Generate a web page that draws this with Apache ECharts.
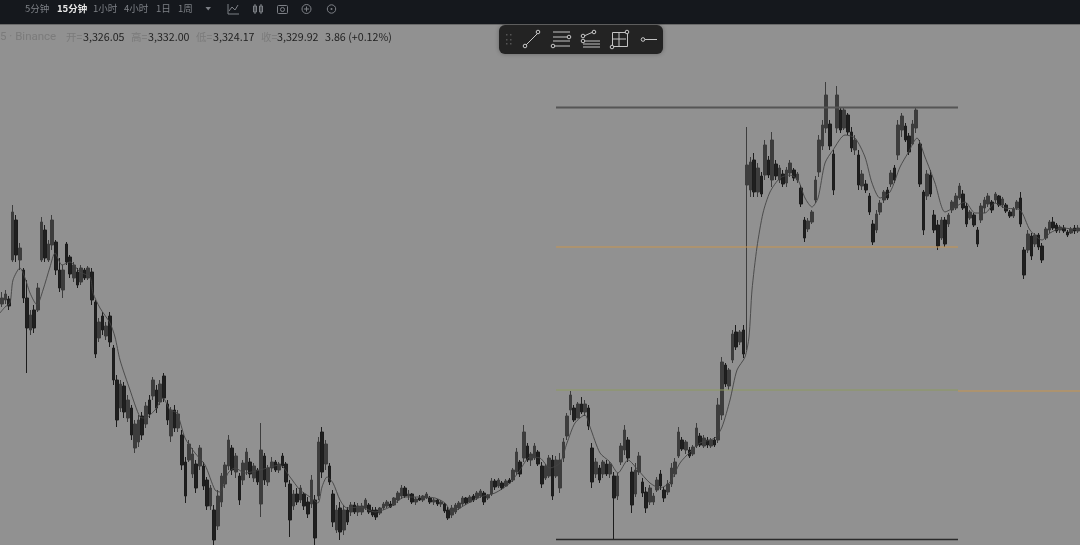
<!DOCTYPE html>
<html><head><meta charset="utf-8">
<style>html,body{margin:0;padding:0;background:#919191}#c{width:1080px;height:545px}</style>
<script src="https://cdn.jsdelivr.net/npm/echarts@6/dist/echarts.min.js"></script>
</head><body><div id="c"></div>
<script>
const highs=[3268,3270,3264,3355,3345,3317,3292,3280,3250,3255,3277,3343,3335,3320,3345,3320,3302,3295,3318,3305,3298,3292,3295,3292,3294,
3292,3260,3242,3248,3238,3248,3215,3185,3180,3178,3165,3155,3140,3145,3148,3158,3165,3183,3175,3180,3187,3160,3153,3155,3150,
3130,3103,3120,3112,3100,3115,3098,3083,3075,3055,3070,3087,3098,3125,3115,3107,3087,3100,3112,3102,3097,3092,3137,3107,3095,
3103,3100,3098,3107,3098,3080,3070,3072,3075,3068,3063,3085,3065,3123,3133,3120,3097,3070,3055,3058,3055,3053,3058,3058,3057,
3057,3062,3057,3053,3053,3053,3058,3060,3059,3063,3069,3075,3074,3070,3067,3063,3065,3065,3068,3064,3062,3061,3060,3057,3053,
3055,3057,3059,3064,3063,3065,3066,3069,3071,3069,3066,3082,3081,3082,3079,3081,3082,3092,3112,3100,3135,3117,3108,3117,3110,
3098,3096,3105,3105,3104,3107,3122,3147,3169,3155,3158,3163,3160,3155,3117,3102,3095,3100,3100,3098,3088,3087,3117,3135,3123,
3093,3097,3108,3082,3073,3075,3067,3083,3090,3073,3080,3097,3102,3133,3123,3120,3113,3115,3137,3127,3125,3123,3122,3123,3162,
3203,3197,3192,3230,3235,3230,3235,3433,3403,3407,3397,3388,3420,3404,3428,3400,3395,3390,3393,3400,3392,3388,3375,3343,3342,
3350,3384,3425,3440,3478,3440,3410,3474,3453,3453,3447,3433,3425,3410,3390,3380,3367,3340,3350,3360,3370,3373,3390,3395,3440,
3447,3437,3427,3440,3453,3420,3370,3390,3390,3350,3340,3343,3343,3347,3360,3367,3377,3370,3357,3350,3347,3333,3357,3363,3367,
3360,3368,3365,3363,3357,3350,3353,3360,3368,3313,3330,3327,3327,3327,3317,3333,3340,3343,3337,3335,3335,3330,3333,3335,3335];
const lows=[3253,3256,3250,3298,3298,3290,3257,3187,3225,3227,3248,3298,3298,3298,3310,3285,3268,3262,3295,3282,3278,3272,3275,3280,3280,
3255,3202,3218,3225,3220,3213,3175,3133,3148,3142,3138,3120,3107,3113,3120,3132,3142,3160,3147,3155,3158,3135,3118,3128,3128,
3090,3057,3098,3082,3067,3090,3070,3050,3050,3015,3030,3053,3072,3090,3085,3082,3055,3075,3085,3082,3078,3075,3043,3075,3074,
3088,3088,3087,3092,3073,3023,3050,3055,3057,3050,3042,3052,3015,3060,3082,3090,3075,3033,3027,3020,3025,3035,3044,3046,3044,
3045,3050,3046,3043,3040,3045,3050,3052,3052,3054,3057,3061,3062,3060,3056,3055,3059,3058,3061,3056,3055,3054,3053,3047,3040,
3042,3046,3050,3054,3055,3057,3058,3060,3062,3055,3060,3064,3070,3072,3070,3073,3076,3078,3085,3083,3098,3098,3094,3100,3094,
3072,3080,3082,3060,3082,3067,3098,3120,3145,3138,3144,3146,3144,3130,3072,3082,3077,3082,3084,3082,3020,3060,3095,3105,3098,
3047,3063,3085,3063,3047,3055,3055,3068,3070,3058,3065,3073,3083,3102,3109,3106,3102,3104,3112,3113,3112,3112,3112,3113,3117,
3140,3173,3170,3197,3210,3215,3202,3210,3363,3363,3363,3363,3380,3382,3373,3380,3377,3373,3373,3383,3379,3377,3353,3318,3328,
3336,3357,3383,3410,3427,3410,3365,3427,3427,3430,3425,3408,3405,3370,3370,3367,3345,3315,3327,3345,3357,3360,3373,3377,3400,
3423,3418,3405,3415,3427,3373,3325,3360,3363,3327,3310,3320,3313,3333,3347,3350,3360,3350,3333,3340,3333,3313,3337,3347,3353,
3347,3357,3353,3352,3347,3342,3342,3350,3333,3281,3307,3300,3313,3310,3297,3320,3327,3330,3327,3327,3327,3323,3326,3326,3327];
const opens=[3256,3260,3261,3300,3340,3300,3290,3262,3230,3250,3250,3300,3330,3300,3315,3318,3290,3270,3316,3303,3282,3288,3278,3290,3282,
3288,3258,3222,3244,3224,3244,3212,3180,3152,3174,3142,3152,3112,3118,3144,3136,3160,3164,3170,3158,3184,3156,3124,3150,3132,
3125,3098,3100,3086,3096,3094,3094,3080,3054,3050,3034,3058,3076,3094,3112,3088,3084,3080,3090,3098,3082,3090,3056,3104,3078,
3092,3098,3090,3104,3096,3076,3054,3066,3060,3066,3058,3056,3060,3064,3128,3096,3094,3066,3030,3052,3030,3050,3048,3055,3048,
3048,3052,3055,3050,3050,3047,3052,3054,3056,3055,3060,3064,3072,3064,3066,3058,3062,3060,3062,3062,3058,3060,3056,3056,3050,
3045,3048,3052,3056,3062,3058,3064,3062,3064,3067,3062,3066,3079,3074,3077,3074,3080,3080,3088,3098,3102,3114,3100,3102,3108,
3094,3082,3084,3100,3084,3072,3102,3124,3150,3152,3142,3156,3148,3152,3112,3086,3092,3086,3096,3086,3084,3064,3098,3110,3120,
3088,3066,3088,3078,3068,3058,3058,3070,3086,3070,3068,3076,3086,3104,3120,3110,3110,3106,3114,3124,3114,3120,3114,3120,3120,
3145,3195,3174,3200,3228,3218,3230,3375,3370,3400,3368,3384,3385,3400,3380,3396,3380,3386,3377,3387,3390,3380,3372,3340,3331,
3338,3360,3388,3414,3432,3436,3406,3432,3450,3432,3445,3428,3410,3405,3374,3376,3364,3336,3330,3348,3360,3370,3376,3392,3405,
3430,3434,3424,3416,3432,3416,3368,3364,3385,3345,3335,3322,3340,3336,3350,3352,3362,3366,3354,3342,3345,3330,3340,3352,3356,
3358,3360,3364,3355,3355,3348,3344,3352,3362,3310,3310,3324,3316,3325,3314,3322,3330,3338,3335,3330,3332,3328,3327,3332,3329];
const closes=[3262,3266,3254,3348,3305,3312,3262,3232,3245,3232,3272,3338,3302,3316,3340,3290,3272,3290,3298,3286,3295,3275,3292,3282,3292,
3260,3206,3238,3230,3234,3218,3180,3140,3176,3148,3160,3125,3136,3140,3125,3154,3146,3180,3152,3176,3162,3140,3150,3132,3146,
3095,3064,3116,3106,3072,3112,3074,3054,3072,3020,3064,3084,3095,3120,3090,3104,3060,3097,3108,3086,3094,3078,3110,3080,3092,
3098,3090,3096,3094,3078,3040,3066,3058,3072,3054,3046,3080,3022,3118,3088,3116,3078,3038,3050,3028,3050,3038,3055,3048,3054,
3054,3060,3048,3045,3043,3052,3056,3058,3053,3062,3067,3072,3064,3066,3058,3061,3060,3064,3066,3058,3060,3056,3058,3049,3042,
3052,3055,3057,3062,3057,3063,3060,3067,3069,3058,3065,3079,3073,3080,3072,3079,3077,3090,3108,3086,3128,3100,3106,3114,3096,
3076,3094,3102,3064,3100,3100,3118,3144,3165,3140,3156,3148,3156,3134,3078,3098,3080,3098,3086,3096,3062,3084,3114,3130,3102,
3055,3090,3104,3067,3052,3072,3064,3080,3074,3062,3076,3092,3098,3128,3111,3118,3104,3113,3132,3115,3122,3115,3120,3115,3155,
3198,3176,3190,3226,3213,3228,3206,3395,3398,3368,3392,3366,3415,3385,3420,3384,3392,3376,3390,3397,3382,3386,3356,3322,3339,
3348,3380,3420,3435,3465,3414,3370,3465,3430,3450,3428,3412,3420,3375,3386,3370,3348,3318,3346,3357,3368,3362,3387,3380,3435,
3444,3420,3408,3436,3450,3376,3330,3386,3366,3330,3314,3340,3316,3345,3358,3364,3374,3352,3336,3348,3335,3316,3354,3360,3364,
3350,3366,3355,3361,3349,3344,3351,3358,3336,3285,3326,3304,3325,3313,3300,3331,3338,3332,3329,3333,3329,3325,3331,3329,3332];
const maTime=[0,5,10,13,20,25,30,37,43,50,55,62,70,80,90,93,100,110,115,120,130,140,145,155,163,170,177,185,195,205,215,220,228,235,245,260,280,290,300,310,318,322,327,333,340,347,360,375,390,405,420,435,445,452,465,480,495,510,520,530,540,550,560,567,575,585,590,600,610,618,628,638,650,660,670,680,690,700,715,722,730,737,745,749,752,757,763,770,780,790,798,805,812,818,825,833,845,855,865,872,880,890,900,908,917,925,935,945,955,965,975,985,995,1005,1020,1030,1042,1050,1062,1080];
const maPrice=[3247,3253,3257,3280,3292,3282,3267,3255,3270,3293,3307,3295,3298,3288,3283,3267,3252,3237,3223,3200,3170,3143,3142,3150,3162,3150,3147,3122,3107,3095,3070,3068,3087,3092,3087,3090,3095,3083,3070,3063,3057,3073,3083,3077,3060,3052,3053,3048,3053,3063,3063,3062,3057,3048,3055,3063,3067,3077,3090,3103,3102,3092,3097,3117,3137,3145,3133,3107,3098,3087,3100,3090,3077,3072,3078,3097,3108,3117,3122,3133,3160,3190,3203,3223,3270,3313,3347,3368,3382,3385,3380,3362,3353,3362,3397,3410,3425,3422,3403,3377,3362,3368,3393,3407,3422,3403,3377,3348,3353,3358,3347,3347,3357,3352,3350,3330,3320,3327,3332,3330];
const topLevel=[3452.5,3452.5], greenLevel=[3170,3170], orangeLevel=[3313,3313], lowLevel=[3020.5,3020.5], rightLevel=[3169,3169];
const levelSpan=[556,958], rightSpan=[958,1080];
const timeframes=['5分钟','15分钟','1小时','4小时','1日','1周'];
const symbolText='5 · Binance';
const statLabels=['开=','高=','低=','收='];
const statValues=['3,326.05','3,332.00','3,324.17','3,329.92'];
const changeText='3.86 (+0.12%)';

const candles=highs.map((h,i)=>[opens[i],closes[i],lows[i],h]);
const cats=highs.map((_,i)=>i+1);
const pairs=(xs,ys)=>xs.map((x,i)=>[x,ys[i]]);
const lvl=(d,color,w)=>({type:'line',xAxisIndex:1,yAxisIndex:0,data:pairs(d[0],d[1]),symbol:'none',silent:true,animation:false,z:4,lineStyle:{color,width:w}});

const txt=(x,y,t,fill,size,weight,fam)=>({type:'text',left:x,top:y,z:20,style:{text:t,fill,font:(weight||'normal')+' '+size+'px '+(fam||'"Noto Sans CJK SC","Inter",sans-serif')}});
const ln=(x1,y1,x2,y2,c,w)=>({type:'line',z:21,shape:{x1,y1,x2,y2},style:{stroke:c,lineWidth:w||1}});
const dot=(x,y,r,c)=>({type:'circle',z:22,shape:{cx:x,cy:y,r:r||1.8},style:{stroke:c||'#c8c8c8',fill:'#232323',lineWidth:1}});
const G='#c4c4c4', D='#7d8086';
const tfX=[25,57,93,124,156,178];
const stX=[66,131,196,261], svX=[83,148,213,277];
const graphics=[
 {type:'rect',z:10,shape:{x:0,y:0,width:1080,height:24},style:{fill:'#15181d'}},
 {type:'rect',z:10,shape:{x:0,y:24,width:1080,height:1},style:{fill:'#6a6a6a'}},
 ...timeframes.map((t,i)=>txt(tfX[i],4,t,i===1?'#e6e6e6':D,9.5,i===1?'bold':'normal')),
 {type:'polygon',z:20,shape:{points:[[205.5,7],[211,7],[208.2,10.5]]},style:{fill:D}},
 ln(228,4,228,14,D),ln(228,14,239,14,D),{type:'polyline',z:20,shape:{points:[[229,11],[232,7],[235,10],[238,5]]},style:{stroke:D,fill:null,lineWidth:1}},
 {type:'rect',z:20,shape:{x:253.5,y:6,width:3,height:6},style:{stroke:D,fill:null}},{type:'rect',z:20,shape:{x:259.5,y:6,width:3,height:6},style:{stroke:D,fill:null}},
 ln(255,4,255,14,D),ln(261,4,261,14,D),
 {type:'rect',z:20,shape:{x:277.5,y:5.5,width:10,height:8,r:1},style:{stroke:D,fill:null}},{type:'circle',z:20,shape:{cx:282.5,cy:9.5,r:2},style:{stroke:D,fill:null}},
 {type:'circle',z:20,shape:{cx:306.5,cy:9,r:4.5},style:{stroke:D,fill:null}},ln(304,9,309,9,D),ln(306.5,6.5,306.5,11.5,D),
 {type:'circle',z:20,shape:{cx:331.5,cy:9,r:4.2},style:{stroke:D,fill:null}},{type:'circle',z:20,shape:{cx:331.5,cy:9,r:1},style:{fill:D}},
 txt(0,31,symbolText,'#7b7b7b',11.5,'normal','Roboto,sans-serif'),
 ...statLabels.map((t,i)=>txt(stX[i],32,t,'#7b7b7b',10.5)),
 ...statValues.map((t,i)=>txt(svX[i],32,t,'#1f1f1f',10.7)),
 txt(325,32,changeText,'#1f1f1f',10.7),
 {type:'rect',z:15,shape:{x:499,y:25,width:164,height:29,r:6},style:{fill:'#232323',shadowBlur:4,shadowColor:'rgba(0,0,0,.3)'}},
 ...[[506,34],[510,34],[506,39],[510,39],[506,43],[510,43]].map(p=>({type:'rect',z:21,shape:{x:p[0],y:p[1],width:1.5,height:1.5},style:{fill:'#555'}})),
 ln(526,45,538,33,G),dot(525,46),dot(538,32),
 ln(553,32,570,32,G),ln(553,37,568,37,G),dot(569,37),ln(553,41,570,41,G),ln(553,46,570,46,G),dot(553,46),
 ln(584,36,593,32,G),dot(583,36),dot(594,32),dot(583,41),ln(583,41,600,41,G),ln(583,44,600,44,G),ln(583,47,600,47,G),
 {type:'rect',z:21,shape:{x:612.5,y:32.5,width:15,height:14},style:{stroke:G,fill:null}},ln(619,33,619,46,G),ln(613,39,626,39,G),dot(612,47),dot(627,32),
 ln(644,39.5,657,39.5,G),dot(643,39.5)
];
const chart=echarts.init(document.getElementById('c'),null,{renderer:'canvas'});
chart.setOption({
 backgroundColor:'#919191',animation:false,
 grid:{left:0,right:0,top:0,bottom:0},
 xAxis:[{type:'category',data:cats,show:false,boundaryGap:true},{type:'value',min:0,max:1080,show:false}],
 yAxis:[{type:'value',min:3015,max:3560,show:false,splitLine:{show:false}}],
 series:[
  {type:'candlestick',data:candles,barWidth:3,silent:true,z:3,
   itemStyle:{color:'#3d3d3d',color0:'#1f1f1f',borderColor:'#3d3d3d',borderColor0:'#1c1c1c',borderWidth:1}},
  {type:'line',xAxisIndex:1,yAxisIndex:0,data:pairs(maTime,maPrice),smooth:0.25,symbol:'none',silent:true,z:5,lineStyle:{color:'#444444',width:0.9}},
  lvl([levelSpan,topLevel],'#555555',2),
  lvl([levelSpan,orangeLevel],'#c8954f',1),
  lvl([levelSpan,greenLevel],'#8d9a5e',1),
  lvl([rightSpan,rightLevel],'#c8954f',1),
  lvl([levelSpan,lowLevel],'#2a2a2a',1.5)
 ],
 graphic:graphics
});
</script></body></html>
